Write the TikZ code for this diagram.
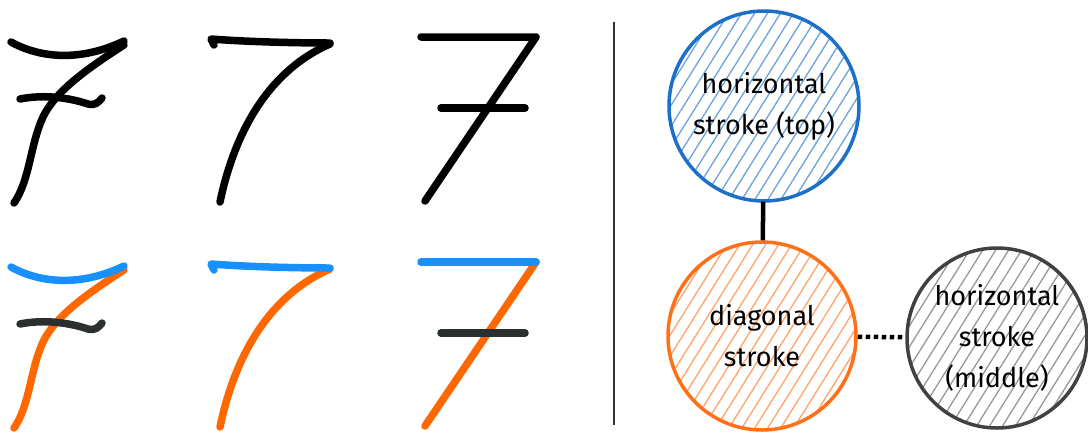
\documentclass[tikz,border=0pt]{standalone}
\usepackage{fontspec}
\setmainfont{Fira Sans}
\usetikzlibrary{patterns.meta}
\definecolor{topblue}{RGB}{24,144,255}
\definecolor{diagorange}{RGB}{255,104,0}
\definecolor{midgray}{RGB}{43,47,47}
\definecolor{ringblue}{RGB}{28,112,200}
\definecolor{ringorange}{RGB}{255,112,24}
\definecolor{ringgray}{RGB}{64,66,66}
\begin{document}
\begin{tikzpicture}[x=1pt, y=-1pt,
  pen/.style={line width=7.5pt, line cap=round, line join=round},
  part/.style={circle, minimum size=#1, inner sep=0pt, align=center,
    font=\fontsize{27}{41}\selectfont, line width=3.5pt},
  hatch/.style={pattern={Lines[angle=58, distance=11pt, line width=1.3pt]}}]
  \useasboundingbox (0,0) rectangle (1088,432);
  % upper row, plain sevens
  \draw[pen] (11,42) .. controls (40,58) and (80,62) .. (124,41);
  \draw[pen] (124,45) .. controls (85,70) and (55,92) .. (43,117)
    .. controls (30,145) and (30,180) .. (14,203);
  \draw[pen] (20,99) .. controls (45,94) and (70,98) .. (88,104)
    .. controls (95,106) and (99,102) .. (102,98);
  \draw[pen] (214,45) -- (211,39) .. controls (250,42) and (300,43) .. (330,43);
  \draw[pen] (330,44) .. controls (270,70) and (235,130) .. (220,202);
  \draw[pen] (421,37) -- (536,37) -- (425,201);
  \draw[pen] (441,108) -- (525,108);
  % lower row, strokes coloured
  \begin{scope}[yshift=-225pt]
    \draw[pen, diagorange] (124,45) .. controls (85,70) and (55,92) .. (43,117)
      .. controls (30,145) and (30,180) .. (14,203);
    \draw[pen, topblue] (11,42) .. controls (40,58) and (80,62) .. (124,41);
    \draw[pen, midgray] (20,99) .. controls (45,94) and (70,98) .. (88,104)
      .. controls (95,106) and (99,102) .. (102,98);
    \draw[pen, diagorange] (330,44) .. controls (270,70) and (235,130) .. (220,202);
    \draw[pen, topblue] (214,45) -- (211,39) .. controls (250,42) and (300,43) .. (330,43);
    \draw[pen, diagorange] (536,37) -- (425,201);
    \draw[pen, topblue] (421,37) -- (536,37);
    \draw[pen, midgray] (441,108) -- (525,108);
  \end{scope}
  % separator
  \draw[line width=1.5pt, black!80] (614,22) -- (614,425);
  % stroke graph
  \node[part=190pt, draw=ringblue, hatch, pattern color=ringblue!65] (top)
    at (764,106) {horizontal\\stroke (top)};
  \node[part=188pt, draw=ringorange, hatch, pattern color=ringorange!65] (diag)
    at (762,336) {diagonal\\stroke};
  \node[part=180pt, draw=ringgray, hatch, pattern color=ringgray!55] (mid)
    at (997,338) {horizontal\\stroke\\(middle)};
  \draw[line width=4.5pt] (top) -- (diag);
  \draw[line width=4.5pt, dash pattern=on 4.5pt off 3.5pt] (diag) -- (mid);
\end{tikzpicture}
\end{document}
